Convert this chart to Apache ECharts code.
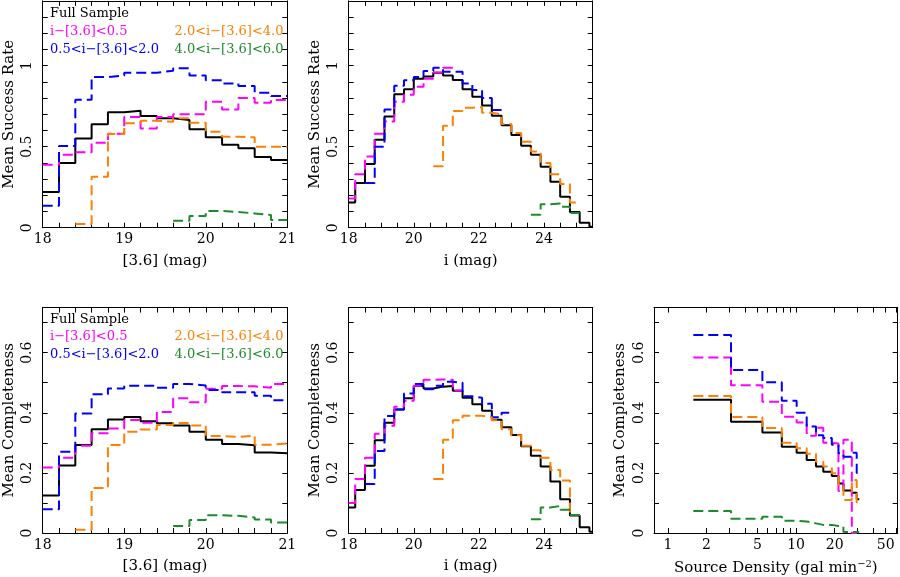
<!DOCTYPE html>
<html>
<head>
<meta charset="utf-8">
<script src="https://cdn.jsdelivr.net/npm/echarts@6.0.0/dist/echarts.min.js"></script>
<style>
html, body { margin: 0; padding: 0; background: #fff; }
#chart { width: 900px; height: 577px; }
</style>
</head>
<body>
<div id="chart"></div>
<script>
// bin edges
const iracEdges = [18.0, 18.2, 18.4, 18.6, 18.8, 19.0, 19.2, 19.4, 19.6, 19.8, 20.0, 20.2, 20.4, 20.6, 20.8, 21.0];
const iEdges = [18.0, 18.2, 18.5, 18.8, 19.1, 19.4, 19.7, 20.0, 20.3, 20.6, 20.9, 21.2, 21.5, 21.8, 22.1, 22.4, 22.7,
  23.0, 23.3, 23.6, 23.9, 24.2, 24.5, 24.8, 25.1, 25.4, 25.5];
const densEdges = [1.58, 3.11, 5.46, 7.74, 10.1, 12.1, 14.3, 16.3, 19.0, 21.4, 23.4, 27.2, 29.7, 31.1];

// success rate vs [3.6]
const succIracAll = [0.22, 0.40, 0.55, 0.638, 0.712, 0.722, 0.69, 0.675, 0.665, 0.607, 0.558, 0.512, 0.49, 0.436, 0.418];
const succIracC1 = [0.389, 0.45, 0.465, 0.525, 0.58, 0.683, 0.613, 0.683, 0.70, 0.70, 0.778, 0.73, 0.80, 0.772, 0.788];
const succIracC2 = [0.136, 0.504, 0.79, 0.93, 0.94, 0.957, 0.957, 0.969, 0.984, 0.94, 0.91, 0.89, 0.875, 0.833, 0.813];
const succIracC3 = [null, null, 0.023, 0.315, 0.578, 0.644, 0.66, 0.654, 0.675, 0.648, 0.593, 0.562, 0.558, 0.50, 0.50];
const succIracC4 = [null, null, null, null, null, null, null, null, 0.043, 0.072, 0.103, 0.097, 0.088, 0.078, 0.047];

// success rate vs i
const succIAll = [0.156, 0.276, 0.393, 0.543, 0.687, 0.823, 0.854, 0.92, 0.934, 0.957, 0.94, 0.911, 0.854, 0.809, 0.755,
  0.691, 0.632, 0.572, 0.506, 0.45, 0.376, 0.284, 0.191, 0.097, 0.031, 0.006];
const succIC1 = [0.18, 0.33, 0.44, 0.58, 0.655, 0.778, 0.82, 0.87, 0.92, 0.958, 0.988];
const succIC2 = [null, null, 0.276, 0.50, 0.73, 0.877, 0.91, 0.93, 0.967, 0.988, 0.963, 0.963, 0.89, 0.85, 0.80, 0.727];
const succIC3 = [null, null, null, null, null, null, null, null, null, 0.38, 0.63, 0.72, 0.74, 0.745, 0.71, 0.70, 0.64,
  0.585, 0.53, 0.47, 0.40, 0.33, 0.27, 0.155];
const succIC4 = [null, null, null, null, null, null, null, null, null, null, null, null, null, null, null, null, null,
  null, null, 0.08, 0.145, 0.15, 0.13, 0.09];

// completeness vs [3.6]
const compIracAll = [0.125, 0.225, 0.293, 0.345, 0.378, 0.386, 0.372, 0.365, 0.358, 0.337, 0.31, 0.296, 0.292, 0.268, 0.265];
const compIracC1 = [0.218, 0.25, 0.29, 0.332, 0.348, 0.376, 0.367, 0.403, 0.448, 0.435, 0.48, 0.489, 0.488, 0.483, 0.496];
const compIracC2 = [0.079, 0.27, 0.398, 0.462, 0.481, 0.49, 0.49, 0.483, 0.496, 0.491, 0.476, 0.468, 0.468, 0.457, 0.442];
const compIracC3 = [null, null, 0.011, 0.15, 0.293, 0.337, 0.344, 0.359, 0.366, 0.358, 0.323, 0.32, 0.324, 0.294, 0.298];
const compIracC4 = [null, null, null, null, null, null, null, null, 0.023, 0.043, 0.059, 0.057, 0.052, 0.045, 0.035];

// completeness vs i
const compIAll = [0.085, 0.143, 0.224, 0.309, 0.367, 0.411, 0.448, 0.489, 0.481, 0.487, 0.489, 0.473, 0.45, 0.428, 0.407,
  0.377, 0.352, 0.326, 0.289, 0.257, 0.221, 0.171, 0.112, 0.058, 0.019, 0.004];
const compIC1 = [0.10, 0.18, 0.25, 0.33, 0.357, 0.42, 0.44, 0.49, 0.51, 0.511, 0.51, 0.474];
const compIC2 = [null, null, 0.163, 0.273, 0.389, 0.411, 0.464, 0.496, 0.478, 0.49, 0.503, 0.50, 0.455, 0.45, 0.43, 0.385, 0.40];
const compIC3 = [null, null, null, null, null, null, null, null, null, 0.18, 0.31, 0.375, 0.39, 0.39, 0.385, 0.375, 0.345,
  0.325, 0.29, 0.275, 0.25, 0.21, 0.175, 0.06];
const compIC4 = [null, null, null, null, null, null, null, null, null, null, null, null, null, null, null, null, null,
  null, null, 0.046, 0.085, 0.09, 0.077, 0.06];

// completeness vs source density
const compDAll = [0.443, 0.37, 0.334, 0.287, 0.267, 0.243, 0.221, 0.204, 0.19, 0.165, 0.141, 0.134, 0.112];
const compDC1 = [0.584, 0.492, 0.437, 0.387, 0.368, 0.324, 0.35, 0.30, 0.298, 0.14, 0.31, 0.0];
const compDC2 = [0.659, 0.542, 0.502, 0.44, 0.40, 0.354, 0.325, 0.316, 0.294, 0.265, 0.254, 0.267, 0.2];
const compDC3 = [0.456, 0.386, 0.349, 0.30, 0.282, 0.264, 0.237, 0.221, 0.199, 0.161, 0.11, 0.176, 0.10];
const compDC4 = [0.073, 0.047, 0.054, 0.041, 0.038, 0.032, 0.027, 0.027, 0.023, 0.023, 0.003, 0.003, 0.003];

// tick labels
const iracLabels = [18, 19, 20, 21];
const iLabels = [18, 20, 22, 24];
const succLabels = [0, 0.5, 1];
const compLabels = [0, 0.2, 0.4, 0.6];
const densLabels = [1, 2, 5, 10, 20, 50];
const densTicks = [1, 2, 3, 4, 5, 6, 7, 8, 9, 10, 20, 30, 40, 50, 60];

const groupNames = ['Full Sample', 'i\u2212[3.6]<0.5', '0.5<i\u2212[3.6]<2.0', '2.0<i\u2212[3.6]<4.0', '4.0<i\u2212[3.6]<6.0'];
const colors = ['#000000', '#ff00ff', '#0000ff', '#ff8000', '#1e8a2c'];

const FONT = 'DejaVu Serif';

// histogram -> points for a step line (value held to the next edge)
function steps(edges, vals) {
  const pts = [];
  let last = null;
  vals.forEach((v, i) => {
    if (v == null) return;
    pts.push([edges[i], v]);
    last = i;
  });
  if (last !== null) pts.push([edges[last + 1], vals[last]]);
  return pts;
}

function axes(dim, gi, o) {
  const base = {
    gridIndex: gi, type: o.type || 'value', min: o.min, max: o.max,
    axisLine: { show: true, onZero: false, lineStyle: { color: '#000', width: 1 } },
    axisTick: { show: true, inside: true, length: 5, lineStyle: { color: '#000', width: 1 } },
    splitLine: { show: false },
    minorTick: { show: false }
  };
  if (o.interval) base.interval = o.interval;
  if (o.type === 'log') {
    base.logBase = 10;
    base.axisTick.customValues = o.ticks;
  }
  const lbl = o.labels;
  const main = Object.assign({}, base, {
    position: dim === 'x' ? 'bottom' : 'left',
    name: o.name, nameLocation: 'middle', nameGap: dim === 'x' ? 26 : 26,
    nameMoveOverlap: false,
    nameTextStyle: { fontFamily: FONT, fontSize: 15, color: '#000', rich: o.rich },
    axisLabel: {
      show: true, fontFamily: FONT, fontSize: 14, color: '#000',
      margin: dim === 'x' ? 5 : 8, rotate: dim === 'y' ? 90 : 0,
      showMinLabel: true, showMaxLabel: true,
      formatter: v => {
        const t = lbl.find(t => Math.abs(t - v) < 1e-6 * Math.max(1, Math.abs(t)));
        return t === undefined ? '' : String(t);
      }
    }
  });
  if (o.type === 'log') main.axisLabel.customValues = lbl;
  const mirror = Object.assign({}, base, {
    position: dim === 'x' ? 'top' : 'right',
    axisLabel: { show: false }
  });
  return [main, mirror];
}

const panels = [
  { grid: { left: 42.7, top: 0.9, width: 244.6, height: 226.8 },
    x: { min: 18, max: 21, interval: 0.2, labels: iracLabels, name: '[3.6] (mag)' },
    y: { min: 0, max: 1.4, interval: 0.1, labels: succLabels, name: 'Mean Success Rate' },
    edges: iracEdges, sets: [succIracAll, succIracC1, succIracC2, succIracC3, succIracC4] },
  { grid: { left: 348.7, top: 0.9, width: 244, height: 226.8 },
    x: { min: 18, max: 25.5, interval: 0.5, labels: iLabels, name: 'i (mag)' },
    y: { min: 0, max: 1.4, interval: 0.1, labels: succLabels, name: 'Mean Success Rate' },
    edges: iEdges, sets: [succIAll, succIC1, succIC2, succIC3, succIC4] },
  { grid: { left: 42.7, top: 307.6, width: 244.6, height: 225.4 },
    x: { min: 18, max: 21, interval: 0.2, labels: iracLabels, name: '[3.6] (mag)' },
    y: { min: 0, max: 0.75, interval: 0.1, labels: compLabels, name: 'Mean Completeness' },
    edges: iracEdges, sets: [compIracAll, compIracC1, compIracC2, compIracC3, compIracC4] },
  { grid: { left: 348.7, top: 307.6, width: 244, height: 225.4 },
    x: { min: 18, max: 25.5, interval: 0.5, labels: iLabels, name: 'i (mag)' },
    y: { min: 0, max: 0.75, interval: 0.1, labels: compLabels, name: 'Mean Completeness' },
    edges: iEdges, sets: [compIAll, compIC1, compIC2, compIC3, compIC4] },
  { grid: { left: 654, top: 307.6, width: 243.7, height: 225.4 },
    x: { type: 'log', min: 0.78, max: 62, ticks: densTicks, labels: densLabels,
         name: '{a|Source Density (gal min}{s|\u22122}{a|)}',
         rich: { a: { fontFamily: FONT, fontSize: 15, color: '#000', lineHeight: 18 },
                 s: { fontFamily: FONT, fontSize: 10, color: '#000', verticalAlign: 'top', lineHeight: 18 } } },
    y: { min: 0, max: 0.75, interval: 0.1, labels: compLabels, name: 'Mean Completeness' },
    edges: densEdges, sets: [compDAll, compDC1, compDC2, compDC3, compDC4] }
];

const grid = [], xAxis = [], yAxis = [], series = [];
panels.forEach((p, gi) => {
  grid.push(Object.assign({ show: false, containLabel: false, outerBoundsMode: 'none' }, p.grid));
  xAxis.push(...axes('x', gi, p.x));
  yAxis.push(...axes('y', gi, p.y));
  p.sets.forEach((vals, k) => {
    series.push({
      type: 'line', name: groupNames[k], xAxisIndex: gi * 2, yAxisIndex: gi * 2,
      data: steps(p.edges, vals), step: 'end', symbol: 'none', showSymbol: false, silent: true,
      lineStyle: { color: colors[k], width: 2, type: k === 0 ? 'solid' : [10, 5] },
      z: 2
    });
  });
});

// in-panel legend text
function legendTexts(y0, dy) {
  const font = '13px "' + FONT + '"';
  const t = (x, y, k, align) => ({
    type: 'text', x, y, silent: true,
    style: { text: groupNames[k], fill: colors[k], font, align, verticalAlign: 'middle' }
  });
  return [
    t(50, y0, 0, 'left'),
    t(50, y0 + dy, 1, 'left'),
    t(283.5, y0 + dy, 3, 'right'),
    t(50, y0 + 2 * dy, 2, 'left'),
    t(283.5, y0 + 2 * dy, 4, 'right')
  ];
}

const chart = echarts.init(document.getElementById('chart'), null, { renderer: 'canvas' });
chart.setOption({
  animation: false,
  backgroundColor: '#fff',
  grid, xAxis, yAxis, series,
  graphic: legendTexts(14, 17.6).concat(legendTexts(319.5, 17.4))
});
</script>
</body>
</html>
